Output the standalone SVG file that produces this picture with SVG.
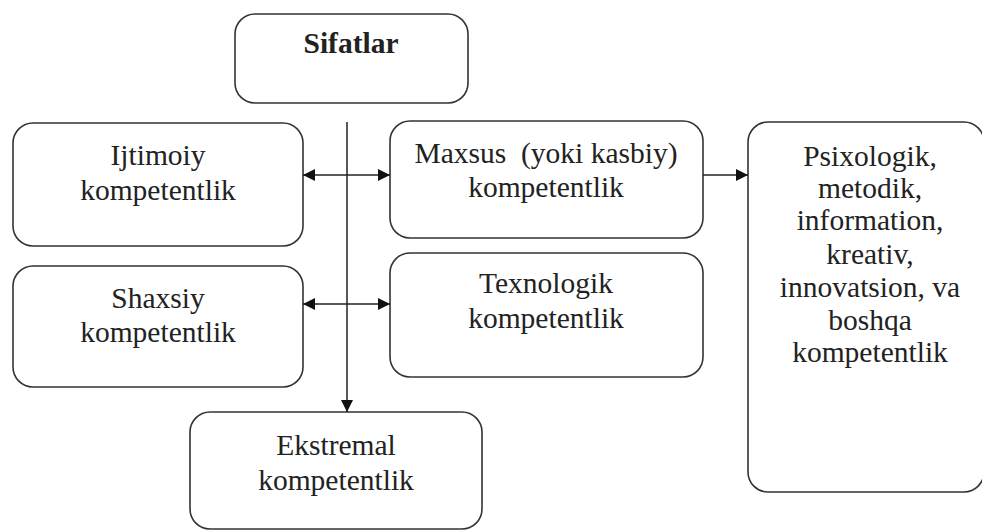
<svg xmlns="http://www.w3.org/2000/svg" width="982" height="531" viewBox="0 0 982 531">
<defs>
<style>
.box{fill:#fff;stroke:#333;stroke-width:1.6}
.t{font-family:"Liberation Serif","Times New Roman",serif;font-size:29.5px;fill:#222;text-anchor:middle}
.b{font-weight:bold}
.c{stroke:#222;stroke-width:1.5;fill:none}
</style>
<marker id="ah" viewBox="0 0 10 10" refX="10" refY="5" markerWidth="12" markerHeight="12" markerUnits="userSpaceOnUse" orient="auto-start-reverse">
<path d="M0,0 L10,5 L0,10 z" fill="#111"/>
</marker>
</defs>
<rect width="982" height="531" fill="#fff"/>
<g id="sifatlar"><rect class="box" x="235" y="14" width="233" height="89" rx="20"/><text class="t b" x="351" y="53">Sifatlar</text></g>
<g id="ijtimoiy"><rect class="box" x="13" y="123" width="290" height="123" rx="20"/><text class="t" x="158" y="165">Ijtimoiy</text><text class="t" x="158" y="200">kompetentlik</text></g>
<g id="maxsus"><rect class="box" x="390" y="121" width="313" height="117" rx="20"/><text class="t" x="546" y="163" xml:space="preserve">Maxsus  (yoki kasbiy)</text><text class="t" x="546" y="197">kompetentlik</text></g>
<g id="psixologik"><rect class="box" x="748" y="122" width="236" height="370" rx="20"/>
<text class="t" x="870" y="166">Psixologik,</text>
<text class="t" x="870" y="198">metodik,</text>
<text class="t" x="870" y="230">information,</text>
<text class="t" x="870" y="264">kreativ,</text>
<text class="t" x="870" y="297">innovatsion, va</text>
<text class="t" x="870" y="330">boshqa</text>
<text class="t" x="870" y="362">kompetentlik</text></g>
<g id="shaxsiy"><rect class="box" x="13" y="266" width="290" height="121" rx="20"/><text class="t" x="158" y="308">Shaxsiy</text><text class="t" x="158" y="342">kompetentlik</text></g>
<g id="texnologik"><rect class="box" x="390" y="253" width="313" height="124" rx="20"/><text class="t" x="546" y="293">Texnologik</text><text class="t" x="546" y="328">kompetentlik</text></g>
<g id="ekstremal"><rect class="box" x="190" y="412" width="292" height="117" rx="20"/><text class="t" x="336" y="455">Ekstremal</text><text class="t" x="336" y="490">kompetentlik</text></g>
<g id="connectors">
<line class="c" x1="347" y1="122" x2="347" y2="412" marker-end="url(#ah)"/>
<line class="c" x1="303" y1="175" x2="390" y2="175" marker-start="url(#ah)" marker-end="url(#ah)"/>
<line class="c" x1="303" y1="304" x2="390" y2="304" marker-start="url(#ah)" marker-end="url(#ah)"/>
<line class="c" x1="703" y1="175" x2="748" y2="175" marker-end="url(#ah)"/>
</g>
</svg>
